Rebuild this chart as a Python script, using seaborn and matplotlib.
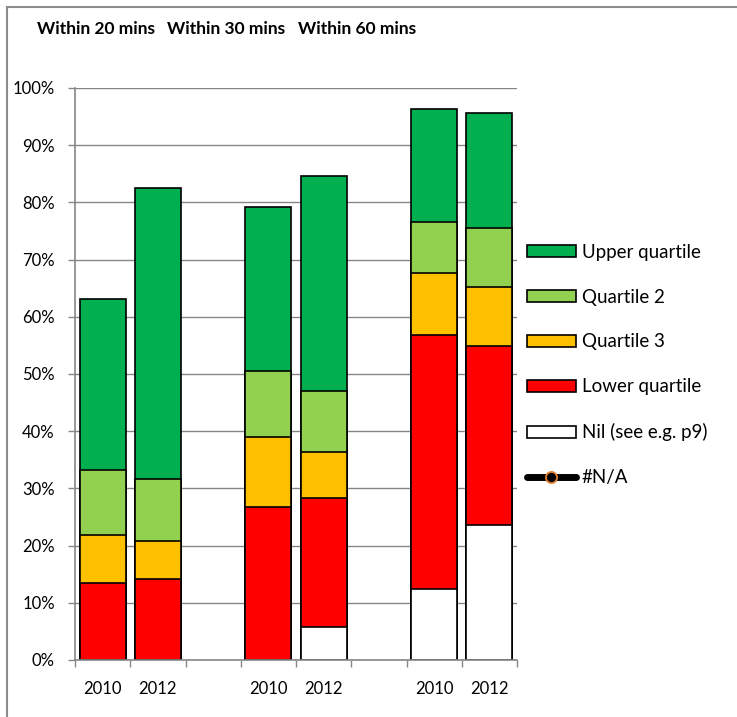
import matplotlib
matplotlib.use("Agg")
import matplotlib.pyplot as plt
from matplotlib.patches import Patch, Rectangle
from matplotlib.lines import Line2D
import numpy as np
import pandas as pd
import seaborn as sns

# Bar slots along the x axis (gaps separate the three travel-time groups)
slots = ["20-2010", "20-2012", "gap-a", "30-2010", "30-2012", "gap-b", "60-2010", "60-2012"]
bar_slots = ["20-2010", "20-2012", "30-2010", "30-2012", "60-2010", "60-2012"]
slot_labels = ["2010", "2012", "", "2010", "2012", "", "2010", "2012"]
group_titles = ["Within 20 mins", "Within 30 mins", "Within 60 mins"]

# Share of population (%) in each band, bottom to top of each stack
nil_share = [0.0, 0.0, 0.0, 5.8, 12.4, 23.6]
lower_quartile = [13.4, 14.2, 26.8, 22.6, 44.4, 31.3]
quartile_3 = [8.5, 6.6, 12.1, 8.0, 10.8, 10.3]
quartile_2 = [11.3, 10.8, 11.6, 10.6, 9.0, 10.4]
upper_quartile = [29.9, 51.0, 28.7, 37.7, 19.8, 20.0]

series_names = ["Nil (see e.g. p9)", "Lower quartile", "Quartile 3", "Quartile 2", "Upper quartile"]
series_values = [nil_share, lower_quartile, quartile_3, quartile_2, upper_quartile]
series_colors = ["#FFFFFF", "#FF0000", "#FFC000", "#92D050", "#00B050"]

y_ticks = list(range(0, 101, 10))

plt.rcParams["font.family"] = ["Lato", "DejaVu Sans"]

# cumulative tops of each band
df = pd.DataFrame({"slot": bar_slots})
running = np.zeros(len(bar_slots))
for name, vals in zip(series_names, series_values):
    running = running + np.array(vals)
    df[name] = running

W, H = 737, 717
fig = plt.figure(figsize=(W / 100, H / 100), dpi=100)
ax = fig.add_axes([75 / W, 57 / H, 442 / W, 572 / H])

grid_c = "#868686"
# draw tallest cumulative bar first so each lower band overlays it
for name, color in reversed(list(zip(series_names, series_colors))):
    sns.barplot(data=df, x="slot", y=name, order=slots, color=color,
                saturation=1, edgecolor="black", linewidth=1.2, width=0.83,
                errorbar=None, ax=ax, zorder=3)

ax.set_xlim(-0.5, 7.5)
ax.set_ylim(0, 100)
ax.set_xlabel("")
ax.set_ylabel("")
ax.set_yticks(y_ticks)
ax.set_yticklabels([f"{t}%" for t in y_ticks])
ax.set_xticks(range(len(slots)))
ax.set_xticklabels(slot_labels)
ax.set_xticks(np.arange(-0.5, len(slots), 1), minor=True)
ax.tick_params(axis="x", which="major", length=0, pad=15, labelsize=12)
ax.tick_params(axis="x", which="minor", length=5, width=1, color=grid_c, direction="out")
ax.tick_params(axis="y", which="major", length=5, width=1, color=grid_c, direction="out",
               pad=9.5, labelsize=12)
ax.yaxis.grid(True, color=grid_c, linewidth=1)
ax.set_axisbelow(True)
for s in ["top", "right"]:
    ax.spines[s].set_visible(False)
for s in ["left", "bottom"]:
    ax.spines[s].set_color(grid_c)
    ax.spines[s].set_linewidth(1.2)
    ax.spines[s].set_zorder(4)

# group headings along the top
for x0, title in zip([37, 167, 298], group_titles):
    fig.text(x0 / W, (H - 29) / H, title, ha="left", va="center",
             fontsize=12.5, fontweight="bold")

# legend, upper band first
handles = [Patch(facecolor=c, edgecolor="black", linewidth=1.2)
           for c in reversed(series_colors)]
labels = list(reversed(series_names))
handles.append(Line2D([0], [0], color="black", linewidth=5, solid_capstyle="round",
                      marker="o", markersize=8, markerfacecolor="black",
                      markeredgecolor="#E8822E", markeredgewidth=1.3))
labels.append("#N/A")
fig.legend(handles, labels, loc="center left", bbox_to_anchor=(527 / W, (H - 365) / H),
           frameon=False, fontsize=13.5, handlelength=2.61, handleheight=0.59,
           handletextpad=0.32, labelspacing=1.49, borderpad=0, borderaxespad=0,
           numpoints=1)

# chart-area frame
fig.patches.append(Rectangle((7 / W, -0.1), 1.2, (H - 7) / H + 0.1,
                             transform=fig.transFigure, fill=False,
                             edgecolor="#8C8C8C", linewidth=1.5))

fig.savefig("out.png", dpi=100)
